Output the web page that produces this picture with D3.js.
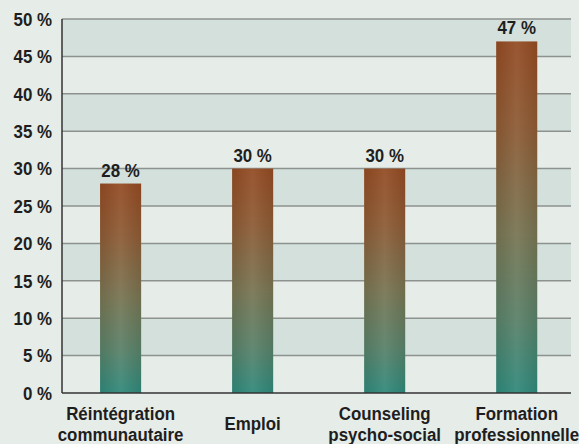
<!DOCTYPE html>
<html>
<head>
<meta charset="utf-8">
<script src="https://d3js.org/d3.v7.min.js"></script>
<style>
  body { margin: 0; background: #e6ece8; }
  svg { display: block; }
  text { font-family: "Liberation Sans", Arial, "DejaVu Sans", sans-serif; font-weight: bold; fill: #1e1e1e; }
</style>
</head>
<body>
<svg id="chart"></svg>
<script>
// chart data
const categories = [
  ["Réintégration", "communautaire"],
  ["Emploi"],
  ["Counseling", "psycho-social"],
  ["Formation", "professionnelle"]
];
const values = [28, 30, 30, 47];
const yTicks = [0, 5, 10, 15, 20, 25, 30, 35, 40, 45, 50];

const width = 579;
const height = 444;
const margin = { top: 19, right: 8, bottom: 51, left: 62 };
const squeeze = 0.89; // condensed look

const svg = d3.select("#chart").attr("width", width).attr("height", height);

// background
svg.append("rect").attr("width", width).attr("height", height).attr("fill", "#e6ece8");

const x = d3.scaleBand()
  .domain(d3.range(categories.length))
  .range([margin.left, width - margin.right])
  .paddingInner(0.689)
  .paddingOuter(0.272)
  .align(0.53);

const y = d3.scaleLinear()
  .domain([0, 50])
  .range([height - margin.bottom, margin.top]);

// gradients
const defs = svg.append("defs");
const grad = defs.append("linearGradient")
  .attr("id", "barGrad")
  .attr("x1", 0).attr("y1", 0).attr("x2", 0).attr("y2", 1);
grad.append("stop").attr("offset", "0%").attr("stop-color", "#924a22");
grad.append("stop").attr("offset", "25%").attr("stop-color", "#8c5a34");
grad.append("stop").attr("offset", "55%").attr("stop-color", "#767452");
grad.append("stop").attr("offset", "80%").attr("stop-color", "#578068");
grad.append("stop").attr("offset", "100%").attr("stop-color", "#2e887a");

const shine = defs.append("linearGradient")
  .attr("id", "barShine")
  .attr("x1", 0).attr("y1", 0).attr("x2", 1).attr("y2", 0);
shine.append("stop").attr("offset", "0%").attr("stop-color", "#000").attr("stop-opacity", 0.06);
shine.append("stop").attr("offset", "50%").attr("stop-color", "#fff").attr("stop-opacity", 0.07);
shine.append("stop").attr("offset", "100%").attr("stop-color", "#000").attr("stop-opacity", 0.06);

// alternating bands
const bands = yTicks.slice(1).filter((d, i) => i % 2 === 0);
svg.append("g")
  .selectAll("rect")
  .data(bands)
  .join("rect")
  .attr("x", margin.left)
  .attr("y", d => y(d + 5))
  .attr("width", width - margin.right - margin.left)
  .attr("height", d => y(d) - y(d + 5))
  .attr("fill", "#d3e0db");

// gridlines
svg.append("g")
  .selectAll("line")
  .data(yTicks.slice(1))
  .join("line")
  .attr("x1", margin.left)
  .attr("x2", width - margin.right)
  .attr("y1", d => y(d))
  .attr("y2", d => y(d))
  .attr("stroke", "#8d928f")
  .attr("stroke-width", 1.5);

// bars
const bars = svg.append("g");
bars.selectAll("rect.bar")
  .data(values)
  .join("rect")
  .attr("class", "bar")
  .attr("x", (d, i) => x(i))
  .attr("y", d => y(d))
  .attr("width", x.bandwidth())
  .attr("height", d => y(0) - y(d))
  .attr("fill", "url(#barGrad)");
bars.selectAll("rect.shine")
  .data(values)
  .join("rect")
  .attr("class", "shine")
  .attr("x", (d, i) => x(i))
  .attr("y", d => y(d))
  .attr("width", x.bandwidth())
  .attr("height", d => y(0) - y(d))
  .attr("fill", "url(#barShine)");

// value labels
svg.append("g")
  .selectAll("text")
  .data(values)
  .join("text")
  .attr("transform", (d, i) => `translate(${x(i) + x.bandwidth() / 2},${y(d) - 7}) scale(${squeeze},1)`)
  .attr("text-anchor", "middle")
  .attr("font-size", 19)
  .text(d => d + " %");

// axes lines
svg.append("line")
  .attr("x1", margin.left).attr("x2", margin.left)
  .attr("y1", y(50)).attr("y2", y(0))
  .attr("stroke", "#333").attr("stroke-width", 1.5);
svg.append("line")
  .attr("x1", margin.left).attr("x2", width - margin.right)
  .attr("y1", y(0)).attr("y2", y(0))
  .attr("stroke", "#333").attr("stroke-width", 1.5);

// y tick labels
svg.append("g")
  .selectAll("text")
  .data(yTicks)
  .join("text")
  .attr("transform", d => `translate(${margin.left - 10},${y(d)}) scale(${squeeze},1)`)
  .attr("dy", "0.36em")
  .attr("text-anchor", "end")
  .attr("font-size", 19)
  .text(d => d + " %");

// category labels
const cat = svg.append("g")
  .selectAll("text")
  .data(categories)
  .join("text")
  .attr("transform", (d, i) => `translate(${x(i) + x.bandwidth() / 2},${d.length === 1 ? 430 : 419.5}) scale(${squeeze},1)`)
  .attr("text-anchor", "middle")
  .attr("font-size", 19);
cat.selectAll("tspan")
  .data(d => d)
  .join("tspan")
  .attr("x", 0)
  .attr("dy", (d, i) => i === 0 ? 0 : 21.5)
  .text(d => d);
</script>
</body>
</html>
